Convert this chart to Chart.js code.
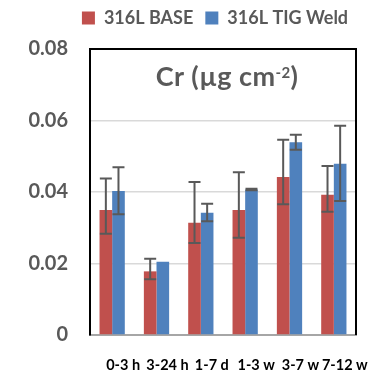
<!DOCTYPE html>
<html>
<head>
<meta charset="utf-8">
<script src="https://cdn.jsdelivr.net/npm/chart.js@4.4.1/dist/chart.umd.min.js"></script>
<style>
  html, body { margin: 0; padding: 0; background: #fff; }
  #wrap { position: relative; width: 381px; height: 375px; }
</style>
</head>
<body>
<div id="wrap"><canvas id="chart"></canvas></div>
<script>
// Cr release per period, two materials, with asymmetric error bars
const periods      = ['0-3 h', '3-24 h', '1-7 d', '1-3 w', '3-7 w', '7-12 w'];
const baseValues   = [0.0350, 0.0178, 0.0314, 0.0350, 0.0442, 0.0392];
const baseErrUp    = [0.0088, 0.0035, 0.0114, 0.0105, 0.0104, 0.0081];
const baseErrDown  = [0.0067, 0.0022, 0.0057, 0.0078, 0.0076, 0.0047];
const weldValues   = [0.0403, 0.0205, 0.0342, 0.0407, 0.0539, 0.0479];
const weldErrUp    = [0.0066, 0, 0.0025, 0.0002, 0.0021, 0.0106];
const weldErrDown  = [0.0065, 0, 0.0024, 0.0002, 0.0021, 0.0104];
const yTicks       = [0, 0.02, 0.04, 0.06, 0.08];

const FONT = "Lato, 'Open Sans', sans-serif";
const GREY = '#595959';

// error bars drawn from the bar elements + y scale
const errorBars = {
  id: 'errorBars',
  afterDatasetsDraw(chart) {
    const ctx = chart.ctx;
    const y = chart.scales.y;
    const errs = [[baseErrUp, baseErrDown], [weldErrUp, weldErrDown]];
    ctx.save();
    ctx.strokeStyle = GREY;
    ctx.lineWidth = 2;
    chart.data.datasets.forEach((ds, di) => {
      const meta = chart.getDatasetMeta(di);
      meta.data.forEach((bar, i) => {
        const up = errs[di][0][i], down = errs[di][1][i];
        if (!up && !down) return;
        const v = ds.data[i];
        const yTop = y.getPixelForValue(v + up);
        const yBot = y.getPixelForValue(v - down);
        const half = 6;
        ctx.beginPath();
        ctx.moveTo(bar.x, yTop); ctx.lineTo(bar.x, yBot);
        ctx.moveTo(bar.x - half, yTop); ctx.lineTo(bar.x + half, yTop);
        ctx.moveTo(bar.x - half, yBot); ctx.lineTo(bar.x + half, yBot);
        ctx.stroke();
      });
    });
    ctx.restore();
  }
};

// legend: extra room below it, and nudged right so it sits over the plot
const legendPlace = {
  id: 'legendPlace',
  afterInit(chart) {
    const lg = chart.legend;
    if (!lg) return;
    const fit = lg.fit;
    lg.fit = function () { fit.call(this); this.height += 12; };
  },
  afterLayout(chart) {
    const lg = chart.legend;
    if (!lg) return;
    lg.left += 37;
    lg.right += 37;
  }
};

// plot frame + in-plot title
const frameAndTitle = {
  id: 'frameAndTitle',
  afterDraw(chart) {
    const { ctx, chartArea: a } = chart;
    ctx.save();
    ctx.strokeStyle = '#000';
    ctx.lineWidth = 2;
    ctx.beginPath();
    ctx.moveTo(a.left, a.bottom);
    ctx.lineTo(a.left, a.top);
    ctx.lineTo(a.right, a.top);
    ctx.lineTo(a.right, a.bottom);
    ctx.stroke();

    // "Cr (μg cm⁻²)" with a raised exponent
    const main = 'bold 27px ' + FONT;
    const sup = 'bold 15px ' + FONT;
    const parts = [['Cr (\u00b5g cm', main, 0], ['-2', sup, -8], [')', main, 0]];
    ctx.letterSpacing = '0.4px';
    let total = 0;
    parts.forEach(p => { ctx.font = p[1]; total += ctx.measureText(p[0]).width; });
    let x = 227 - total / 2;
    const base = a.top + 37;
    ctx.fillStyle = GREY;
    ctx.textBaseline = 'alphabetic';
    parts.forEach(p => {
      ctx.font = p[1];
      ctx.fillText(p[0], x, base + p[2]);
      x += ctx.measureText(p[0]).width;
    });
    ctx.restore();
  }
};

new Chart(document.getElementById('chart'), {
  type: 'bar',
  data: {
    labels: periods,
    datasets: [
      { label: '316L BASE', data: baseValues, backgroundColor: '#C0504D' },
      { label: '316L TIG Weld', data: weldValues, backgroundColor: '#4F81BD' }
    ]
  },
  options: {
    responsive: true,
    maintainAspectRatio: false,
    animation: false,
    devicePixelRatio: 1,
    layout: { padding: { left: 0, right: 25, top: -3, bottom: 2 } },
    datasets: { bar: { categoryPercentage: 0.57, barPercentage: 1.0 } },
    plugins: {
      legend: {
        position: 'top',
        align: 'center',
        labels: {
          boxWidth: 13, boxHeight: 13,
          padding: 12,
          color: GREY,
          font: { family: FONT, size: 18, weight: 'bold' }
        }
      },
      tooltip: { enabled: false }
    },
    scales: {
      x: {
        afterFit: s => { s.height = 38; },
        grid: { display: false, drawTicks: false },
        border: { color: '#a6a6a6', width: 2 },
        ticks: {
          color: '#000',
          labelOffset: 11,
          padding: 22,
          maxRotation: 0,
          autoSkip: false,
          font: { family: FONT, size: 14.5, weight: 'bold' }
        }
      },
      y: {
        min: 0, max: 0.08,
        afterBuildTicks: s => { s.ticks = yTicks.map(v => ({ value: v })); },
        afterFit: s => { s.width = 90; },
        grid: {
          color: c => (c.tick.value === 0 || c.tick.value === 0.08) ? 'transparent' : '#d9d9d9',
          lineWidth: 1.5,
          drawTicks: false
        },
        border: { color: '#000', width: 2 },
        ticks: {
          color: GREY,
          padding: 22,
          font: { family: FONT, size: 20, weight: 'bold' },
          callback: v => v === 0 ? '0' : v.toFixed(2)
        }
      }
    }
  },
  plugins: [errorBars, legendPlace, frameAndTitle]
});
</script>
</body>
</html>
